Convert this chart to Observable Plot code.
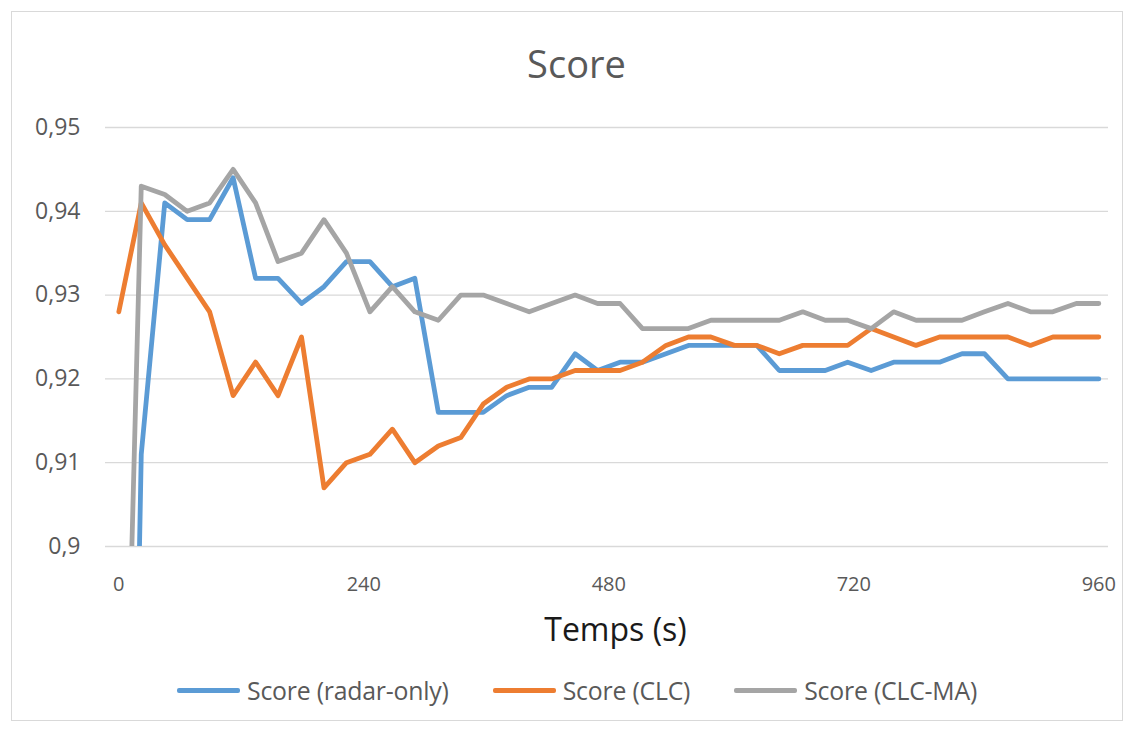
<!DOCTYPE html>
<html><head><meta charset="utf-8">
<script src="https://cdn.jsdelivr.net/npm/d3@7"></script>
<script src="https://cdn.jsdelivr.net/npm/@observablehq/plot@0.6"></script>
<style>
body{margin:0;background:#fff;width:1137px;height:732px;overflow:hidden;font-family:"Open Sans",sans-serif;position:relative}
#frame{position:absolute;left:11px;top:11px;width:1112px;height:710px;border:1px solid #d9d9d9;box-sizing:border-box}
#title{position:absolute;left:0;top:38px;width:1137px;padding-left:16px;box-sizing:border-box;text-align:center;font-size:38px;line-height:50px;color:#595959}
#chart{position:absolute;left:0;top:100px}
#legend{position:absolute;left:177px;top:675px;height:30px;display:flex;align-items:center;gap:44px;font-size:24.8px;color:#595959;letter-spacing:-0.2px}
.item{display:flex;align-items:center}
.sw{width:63px;height:5px;border-radius:2px;margin-right:7px}
</style></head>
<body>
<div id="frame"></div>
<div id="title">Score</div>
<div id="chart"></div>
<div id="legend"></div>
<script>
const times = [0,22,45,67,89,112,134,156,179,201,223,246,268,290,313,335,357,380,402,424,447,469,491,513,536,558,580,603,625,647,670,692,714,737,759,781,804,826,848,871,893,915,938,960];
const radarOnly = [0.77,0.911,0.941,0.939,0.939,0.944,0.932,0.932,0.929,0.931,0.934,0.934,0.931,0.932,0.916,0.916,0.916,0.918,0.919,0.919,0.923,0.921,0.922,0.922,0.923,0.924,0.924,0.924,0.924,0.921,0.921,0.921,0.922,0.921,0.922,0.922,0.922,0.923,0.923,0.920,0.920,0.920,0.920,0.920];
const clc = [0.928,0.941,0.936,0.932,0.928,0.918,0.922,0.918,0.925,0.907,0.910,0.911,0.914,0.910,0.912,0.913,0.917,0.919,0.920,0.920,0.921,0.921,0.921,0.922,0.924,0.925,0.925,0.924,0.924,0.923,0.924,0.924,0.924,0.926,0.925,0.924,0.925,0.925,0.925,0.925,0.924,0.925,0.925,0.925];
const clcMa = [0.84,0.943,0.942,0.940,0.941,0.945,0.941,0.934,0.935,0.939,0.935,0.928,0.931,0.928,0.927,0.930,0.930,0.929,0.928,0.929,0.930,0.929,0.929,0.926,0.926,0.926,0.927,0.927,0.927,0.927,0.928,0.927,0.927,0.926,0.928,0.927,0.927,0.927,0.928,0.929,0.928,0.928,0.929,0.929];
const seriesNames = ["Score (radar-only)", "Score (CLC)", "Score (CLC-MA)"];
const seriesColors = ["#5B9BD5", "#ED7D31", "#A5A5A5"];
const yTicks = [0.9, 0.91, 0.92, 0.93, 0.94, 0.95];
const xTicks = [0, 240, 480, 720, 960];
const xLabel = "Temps (s)";

const rows = [];
[radarOnly, clc, clcMa].forEach((vals, s) =>
  vals.forEach((v, i) => rows.push({t: times[i], v, s: seriesNames[s]})));

const chart = Plot.plot({
  width: 1137, height: 560,
  marginLeft: 105, marginRight: 29, marginTop: 27, marginBottom: 114,
  x: {domain: [0, 960], insetLeft: 13.3, insetRight: 9.7},
  y: {domain: [0.9, 0.95]},
  color: {domain: seriesNames, range: seriesColors},
  style: {fontFamily: "Open Sans", color: "#595959", background: "transparent", overflow: "visible"},
  marks: [
    Plot.gridY(yTicks, {stroke: "#d9d9d9", strokeOpacity: 1, strokeWidth: 1.3}),
    Plot.axisY(yTicks, {tickSize: 0, tickPadding: 25, fontSize: 23, label: null,
      tickFormat: d => String(d).replace(".", ",")}),
    Plot.axisX(xTicks, {tickSize: 0, tickPadding: 30, fontSize: 20, label: null}),
    Plot.line(rows, {x: "t", y: "v", z: "s", stroke: "s", strokeWidth: 4.8, clip: true,
      strokeLinejoin: "round", strokeLinecap: "round"}),
    Plot.text([xLabel], {text: d => d, frameAnchor: "bottom", dy: 84, dx: 8.5,
      fontSize: 32, fill: "#1a1a1a", lineAnchor: "middle"})
  ]
});
document.getElementById("chart").appendChild(chart);

const legend = document.getElementById("legend");
seriesNames.forEach((n, i) => {
  const it = document.createElement("div");
  it.className = "item";
  it.innerHTML = `<div class="sw" style="background:${seriesColors[i]}"></div><span>${n}</span>`;
  legend.appendChild(it);
});
</script>
</body></html>
